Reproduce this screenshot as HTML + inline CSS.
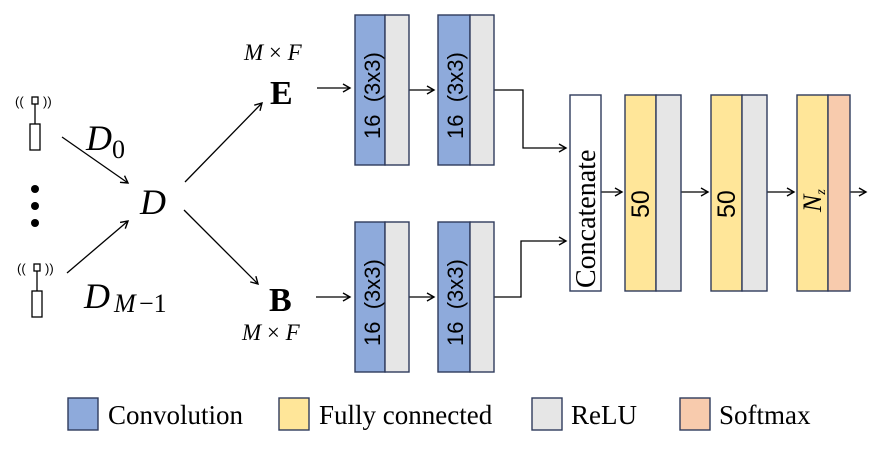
<!DOCTYPE html>
<html><head><meta charset="utf-8"><style>
html,body{margin:0;padding:0;background:#fff;}
svg{display:block;}
.t{font-family:"Liberation Serif",serif;}
.s{font-family:"Liberation Sans",sans-serif;}
</style></head><body>
<svg width="896" height="453" viewBox="0 0 896 453" xmlns="http://www.w3.org/2000/svg">
<defs>
<marker id="a" markerWidth="10" markerHeight="10" refX="8" refY="5" orient="auto" markerUnits="userSpaceOnUse">
<path d="M1,1 L8,5 L1,9" fill="none" stroke="#000" stroke-width="1.4"/></marker>
</defs>
<g stroke="#000" stroke-width="1.3" fill="none">
<rect x="32" y="97" width="6" height="7"/><line x1="35" y1="104" x2="35" y2="124"/><rect x="30" y="124" width="10" height="26"/>
<rect x="34" y="264" width="6" height="7"/><line x1="37" y1="271" x2="37" y2="291"/><rect x="32" y="291" width="10" height="26"/>
</g>
<text x="15" y="106" class="s" font-size="13">((</text><text x="43" y="106" class="s" font-size="13">))</text>
<text x="17" y="273" class="s" font-size="13">((</text><text x="45" y="273" class="s" font-size="13">))</text>
<circle cx="35" cy="189" r="4"/><circle cx="35" cy="206" r="4"/><circle cx="35" cy="223" r="4"/>
<g stroke="#000" stroke-width="1.3" marker-end="url(#a)">
<line x1="62" y1="137" x2="128" y2="183"/>
<line x1="67" y1="273" x2="128" y2="221"/>
<line x1="185" y1="182" x2="262" y2="103"/>
<line x1="184" y1="210" x2="258" y2="284"/>
<line x1="317" y1="88" x2="350" y2="88"/>
<line x1="316" y1="297" x2="350" y2="297"/>
<line x1="409" y1="90" x2="434" y2="90"/>
<line x1="408" y1="297" x2="434" y2="297"/>
<polyline points="494,90 523,90 523,148 566,148" fill="none"/>
<polyline points="493,297 521,297 521,241 566,241" fill="none"/>
<line x1="601" y1="192" x2="622" y2="192"/>
<line x1="681" y1="192" x2="708" y2="192"/>
<line x1="766" y1="192" x2="794" y2="192"/>
<line x1="850" y1="192" x2="866" y2="192"/>
</g>
<text x="86" y="150" class="t" font-size="36" font-style="italic">D</text><text x="112" y="158" class="t" font-size="26">0</text>
<text x="140" y="214" class="t" font-size="36" font-style="italic">D</text>
<text x="84" y="308" class="t" font-size="36" font-style="italic">D</text><text x="114" y="312" class="t" font-size="26" font-style="italic">M</text><text x="139" y="312" class="t" font-size="26">−1</text>
<text x="244" y="60" class="t" font-size="23" font-style="italic">M <tspan font-style="normal">×</tspan> F</text>
<text x="242" y="340" class="t" font-size="23" font-style="italic">M <tspan font-style="normal">×</tspan> F</text>
<text x="270" y="104" class="t" font-size="34" font-weight="bold">E</text>
<text x="269" y="311" class="t" font-size="34" font-weight="bold">B</text>
<g stroke="#2f3b5c" stroke-width="1.4">
<rect x="355" y="15" width="30" height="150" fill="#8eaadb"/><rect x="385" y="15" width="24" height="150" fill="#e6e6e6"/>
<rect x="438" y="15" width="32" height="150" fill="#8eaadb"/><rect x="470" y="15" width="24" height="150" fill="#e6e6e6"/>
<rect x="355" y="222" width="30" height="150" fill="#8eaadb"/><rect x="385" y="222" width="24" height="150" fill="#e6e6e6"/>
<rect x="438" y="222" width="32" height="150" fill="#8eaadb"/><rect x="470" y="222" width="24" height="150" fill="#e6e6e6"/>
<rect x="570" y="95" width="31" height="196" fill="#fff"/>
<rect x="625" y="95" width="31" height="196" fill="#ffe699"/><rect x="656" y="95" width="25" height="196" fill="#e6e6e6"/>
<rect x="711" y="95" width="31" height="196" fill="#ffe699"/><rect x="742" y="95" width="25" height="196" fill="#e6e6e6"/>
<rect x="797" y="95" width="31" height="196" fill="#ffe699"/><rect x="828" y="95" width="22" height="196" fill="#f8cbad"/>
<rect x="68" y="398" width="30" height="32" fill="#8eaadb"/>
<rect x="279" y="398" width="30" height="32" fill="#ffe699"/>
<rect x="532" y="398" width="30" height="32" fill="#e6e6e6"/>
<rect x="680" y="398" width="30" height="32" fill="#f8cbad"/>
</g>
<g class="s" font-size="22" fill="#000">
<text transform="translate(380,139) rotate(-90)" xml:space="preserve">16  (3x3)</text>
<text transform="translate(463,139) rotate(-90)" xml:space="preserve">16  (3x3)</text>
<text transform="translate(380,346) rotate(-90)" xml:space="preserve">16  (3x3)</text>
<text transform="translate(463,346) rotate(-90)" xml:space="preserve">16  (3x3)</text>
<text transform="translate(649,218) rotate(-90)" font-size="25">50</text>
<text transform="translate(735,218) rotate(-90)" font-size="25">50</text>
</g>
<text transform="translate(595,288) rotate(-90)" class="t" font-size="28">Concatenate</text>
<text transform="translate(821,212) rotate(-90)" class="t" font-size="26" font-style="italic">N<tspan font-size="14" dy="4">z</tspan></text>
<g class="t" font-size="27">
<text x="108" y="424">Convolution</text>
<text x="319" y="424">Fully connected</text>
<text x="571" y="424">ReLU</text>
<text x="719" y="424">Softmax</text>
</g>
</svg>
</body></html>
